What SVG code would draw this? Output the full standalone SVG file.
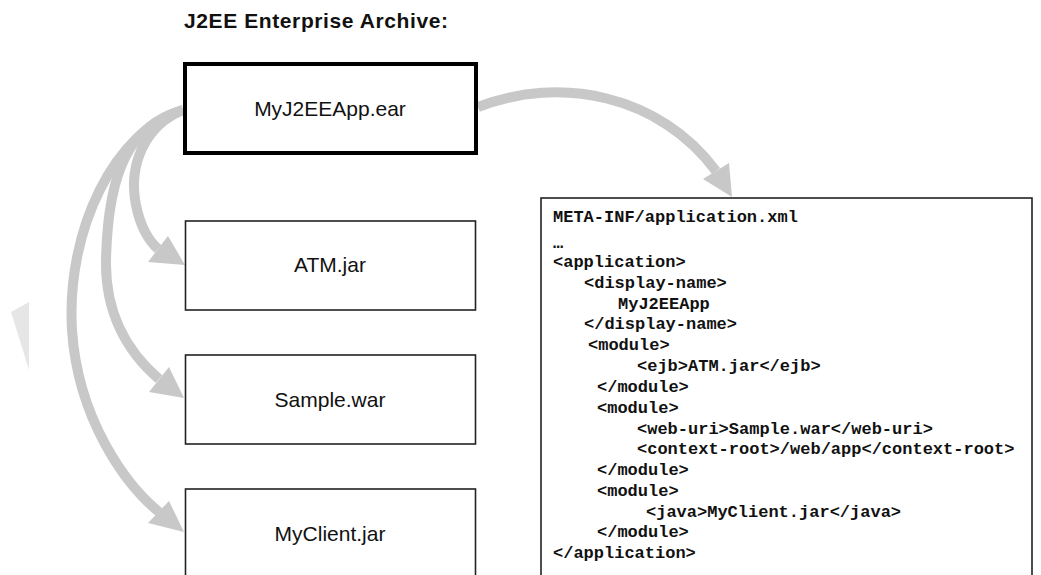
<svg xmlns="http://www.w3.org/2000/svg" width="1041" height="575" viewBox="0 0 1041 575">
  <style>
    .title { font-family: "Liberation Sans", Arial, sans-serif; font-weight: bold; font-size: 21px; letter-spacing: 0.6px; fill: #111; }
    .lbl { font-family: "Liberation Sans", Arial, sans-serif; font-size: 21px; fill: #111; text-anchor: middle; }
    .box { fill: #fff; stroke: #222; stroke-width: 1.6; }
    .main { fill: #fff; stroke: #000; stroke-width: 4; }
    .code { font-family: "Liberation Mono", "Courier New", monospace; font-weight: bold; font-size: 17px; fill: #111; white-space: pre; }
    .shaft { fill: none; stroke: #c8c8c8; stroke-width: 10; }
    .head { fill: #c8c8c8; stroke: none; }
  </style>
  <rect width="1041" height="575" fill="#fff"/>
  <polygon points="11,312 29,302 29,370" fill="#e6e6e6"/>
  <text class="title" x="184" y="28">J2EE Enterprise Archive:</text>
  <g id="connectors">
    <path class="shaft" d="M183,110 C115,130 66,230 72,330 C78,420 126,485 159,512"/>
    <polygon class="head" points="148,523 169,501 184,532"/>
    <path class="shaft" d="M183,110 C130,125 108,170 106,260 C105,310 125,350 159,379"/>
    <polygon class="head" points="149,392 169,367 184,398"/>
    <path class="shaft" d="M183,110 C145,125 128,165 136,205 C140,225 148,240 158,249"/>
    <polygon class="head" points="148,262 168,236 185,265"/>
    <path class="shaft" d="M478,107 C560,75 660,95 716,171"/>
    <polygon class="head" points="703,179 729,163 732,197"/>
  </g>
  <g id="ear">
    <rect class="main" x="185" y="64" width="291" height="89"/>
    <text class="lbl" x="330" y="116">MyJ2EEApp.ear</text>
  </g>
  <g id="atm">
    <rect class="box" x="185.5" y="221" width="290" height="89"/>
    <text class="lbl" x="330" y="272">ATM.jar</text>
  </g>
  <g id="sample">
    <rect class="box" x="185.5" y="355" width="290" height="89"/>
    <text class="lbl" x="330" y="407">Sample.war</text>
  </g>
  <g id="client">
    <rect class="box" x="185.5" y="489" width="290" height="120"/>
    <text class="lbl" x="330" y="541">MyClient.jar</text>
  </g>
  <g id="appxml">
    <rect class="box" x="541" y="198" width="491" height="420"/>
    <text class="code" x="553" y="222">META-INF/application.xml</text>
    <text class="code" x="553" y="248">…</text>
    <text class="code" x="553" y="267">&lt;application&gt;</text>
    <text class="code" x="584" y="288">&lt;display-name&gt;</text>
    <text class="code" x="618" y="308.5">MyJ2EEApp</text>
    <text class="code" x="584" y="329">&lt;/display-name&gt;</text>
    <text class="code" x="588" y="350">&lt;module&gt;</text>
    <text class="code" x="637" y="371">&lt;ejb&gt;ATM.jar&lt;/ejb&gt;</text>
    <text class="code" x="597" y="392">&lt;/module&gt;</text>
    <text class="code" x="597" y="413">&lt;module&gt;</text>
    <text class="code" x="637" y="433.5">&lt;web-uri&gt;Sample.war&lt;/web-uri&gt;</text>
    <text class="code" x="637" y="454">&lt;context-root&gt;/web/app&lt;/context-root&gt;</text>
    <text class="code" x="597" y="475">&lt;/module&gt;</text>
    <text class="code" x="597" y="495.5">&lt;module&gt;</text>
    <text class="code" x="646" y="516.5">&lt;java&gt;MyClient.jar&lt;/java&gt;</text>
    <text class="code" x="597" y="537">&lt;/module&gt;</text>
    <text class="code" x="553" y="558">&lt;/application&gt;</text>
  </g>
</svg>
